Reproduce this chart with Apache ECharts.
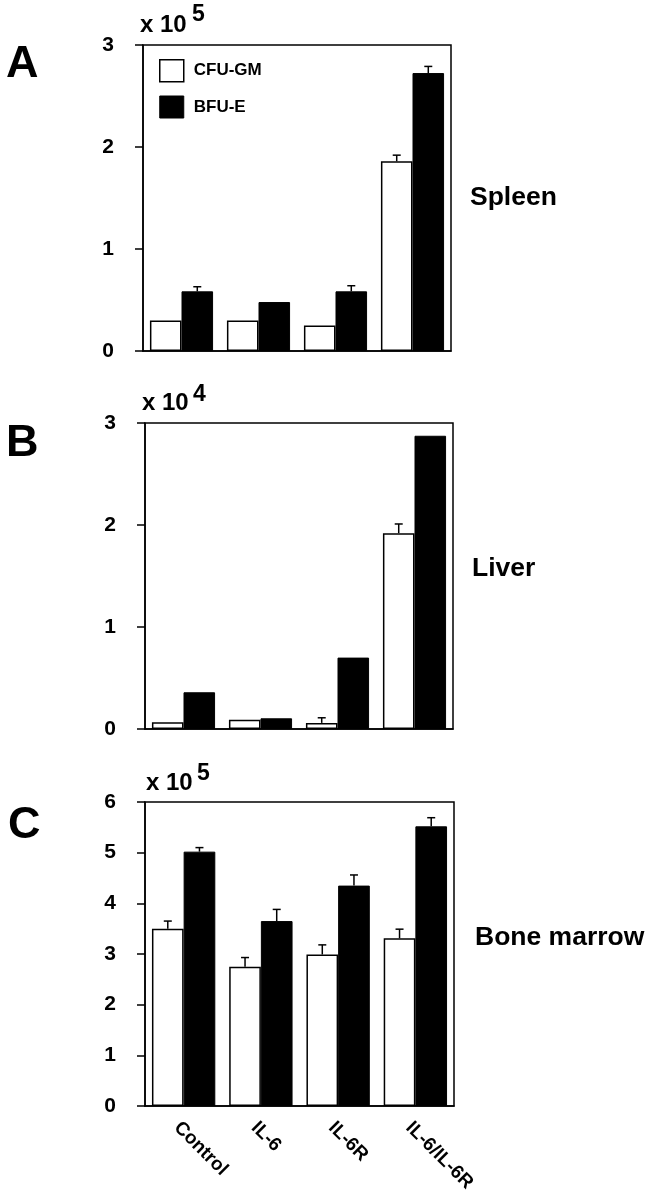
<!DOCTYPE html>
<html>
<head>
<meta charset="utf-8">
<script src="https://cdn.jsdelivr.net/npm/echarts@6/dist/echarts.min.js"></script>
<style>
html,body{margin:0;padding:0;background:#fff;}
#chart{width:652px;height:1199px;}
</style>
</head>
<body>
<div id="chart"></div>
<script>
const categories = ['Control', 'IL-6', 'IL-6R', 'IL-6/IL-6R'];
const seriesNames = ['CFU-GM', 'BFU-E'];

// Panel A: Spleen (x 10^5)
const spleenCFU = [0.30, 0.30, 0.25, 1.86];
const spleenBFU = [0.585, 0.48, 0.585, 2.725];
const spleenCFUErr = [null, null, null, 1.92];
const spleenBFUErr = [0.63, null, 0.64, 2.79];

// Panel B: Liver (x 10^4)
const liverCFU = [0.065, 0.09, 0.06, 1.92];
const liverBFU = [0.36, 0.105, 0.70, 2.875];
const liverCFUErr = [null, null, 0.11, 2.01];
const liverBFUErr = [null, null, null, null];

// Panel C: Bone marrow (x 10^5)
const marrowCFU = [3.50, 2.75, 2.99, 3.31];
const marrowBFU = [5.02, 3.65, 4.35, 5.52];
const marrowCFUErr = [3.65, 2.93, 3.18, 3.49];
const marrowBFUErr = [5.10, 3.88, 4.56, 5.69];

const yMaxA = 3, yMaxB = 3, yMaxC = 6;

const FONT = 'Liberation Sans';
const chart = echarts.init(document.getElementById('chart'), null, {renderer: 'canvas'});

const grids = [
  {left: 143, top: 45, width: 308, height: 306},
  {left: 145, top: 423, width: 308, height: 306},
  {left: 145, top: 802, width: 309, height: 304}
];

function xAxis(gi, showLabels) {
  return {
    type: 'category', gridIndex: gi, data: categories,
    axisLine: {lineStyle: {color: '#000', width: 1.5}},
    axisTick: {show: false},
    axisLabel: showLabels ? {
      rotate: -45, margin: 12, color: '#000', fontFamily: FONT,
      fontWeight: 'bold', fontSize: 19, interval: 0, verticalAlign: 'top'
    } : {show: false},
    splitLine: {show: false}
  };
}
function yAxis(gi, max) {
  return {
    type: 'value', gridIndex: gi, min: 0, max: max, interval: 1,
    axisLine: {show: true, lineStyle: {color: '#000', width: 1.5}},
    axisTick: {show: true, length: 8, inside: false, lineStyle: {color: '#000', width: 1.5}},
    axisLabel: {margin: 29, color: '#000', fontFamily: FONT, fontWeight: 'bold', fontSize: 21},
    splitLine: {show: false}
  };
}

const CAT_GAP = 0.18;
const HALF = (1 - CAT_GAP) / 4; // offset of each bar center from category center, in category widths

function errRenderer(side) {
  return function (params, api) {
    const top = api.value(1);
    const base = api.value(2);
    if (top == null || isNaN(top)) return null;
    const cat = api.value(0);
    const p1 = api.coord([cat, base]);
    const p2 = api.coord([cat, top]);
    const cw = api.size([1, 0])[0];
    const x = p1[0] + side * HALF * cw;
    const style = {stroke: '#000', lineWidth: 1.5};
    return {
      type: 'group',
      children: [
        {type: 'line', shape: {x1: x, y1: p1[1], x2: x, y2: p2[1]}, style: style},
        {type: 'line', shape: {x1: x - 4, y1: p2[1], x2: x + 4, y2: p2[1]}, style: style}
      ]
    };
  };
}

function panelSeries(gi, cfu, bfu, cfuErr, bfuErr) {
  const errData = (err, vals) => err.map((e, i) => [i, e == null ? NaN : e, vals[i]]);
  return [
    {
      name: seriesNames[0], type: 'bar', xAxisIndex: gi, yAxisIndex: gi, data: cfu,
      barGap: '0%', barCategoryGap: (CAT_GAP * 100) + '%',
      itemStyle: {color: '#fff', borderColor: '#000', borderWidth: 1.5},
      emphasis: {disabled: true}, silent: true
    },
    {
      name: seriesNames[1], type: 'bar', xAxisIndex: gi, yAxisIndex: gi, data: bfu,
      barGap: '0%', barCategoryGap: (CAT_GAP * 100) + '%',
      itemStyle: {color: '#000', borderColor: '#000', borderWidth: 1},
      emphasis: {disabled: true}, silent: true
    },
    {
      type: 'custom', xAxisIndex: gi, yAxisIndex: gi, renderItem: errRenderer(-1),
      data: errData(cfuErr, cfu), silent: true, z: 5
    },
    {
      type: 'custom', xAxisIndex: gi, yAxisIndex: gi, renderItem: errRenderer(1),
      data: errData(bfuErr, bfu), silent: true, z: 5
    }
  ];
}

function txt(x, y, text, size, align) {
  return {
    type: 'text', x: x, y: y,
    style: {text: text, fill: '#000', font: 'bold ' + size + 'px "' + FONT + '"',
            textAlign: align || 'left', textVerticalAlign: 'middle'}
  };
}

const option = {
  backgroundColor: '#fff',
  animation: false,
  grid: grids.map(g => Object.assign({show: true, borderColor: '#000', borderWidth: 1.5,
                                      backgroundColor: 'transparent', containLabel: false}, g)),
  xAxis: [xAxis(0, false), xAxis(1, false), xAxis(2, true)],
  yAxis: [yAxis(0, yMaxA), yAxis(1, yMaxB), yAxis(2, yMaxC)],
  legend: {
    show: true, orient: 'vertical', left: 159, top: 59, padding: 0,
    itemWidth: 24, itemHeight: 22, itemGap: 13, selectedMode: false,
    icon: 'rect',
    textStyle: {color: '#000', fontFamily: FONT, fontWeight: 'bold', fontSize: 17, padding: [0, 0, 0, 5]},
    data: [
      {name: seriesNames[0], itemStyle: {color: '#fff', borderColor: '#000', borderWidth: 1.5}},
      {name: seriesNames[1], itemStyle: {color: '#000', borderColor: '#000', borderWidth: 1}}
    ]
  },
  graphic: [
    txt(6, 65, 'A', 45), txt(6, 444, 'B', 45), txt(8, 826, 'C', 45),
    txt(140, 25, 'x 10', 24), txt(192, 15, '5', 23),
    txt(142, 403, 'x 10', 24), txt(193, 395, '4', 23),
    txt(146, 783, 'x 10', 24), txt(197, 774, '5', 23),
    txt(470, 198, 'Spleen', 26.5), txt(472, 569, 'Liver', 26.5), txt(475, 938, 'Bone marrow', 26.5)
  ],
  series: [].concat(
    panelSeries(0, spleenCFU, spleenBFU, spleenCFUErr, spleenBFUErr),
    panelSeries(1, liverCFU, liverBFU, liverCFUErr, liverBFUErr),
    panelSeries(2, marrowCFU, marrowBFU, marrowCFUErr, marrowBFUErr)
  )
};
chart.setOption(option);
</script>
</body>
</html>
